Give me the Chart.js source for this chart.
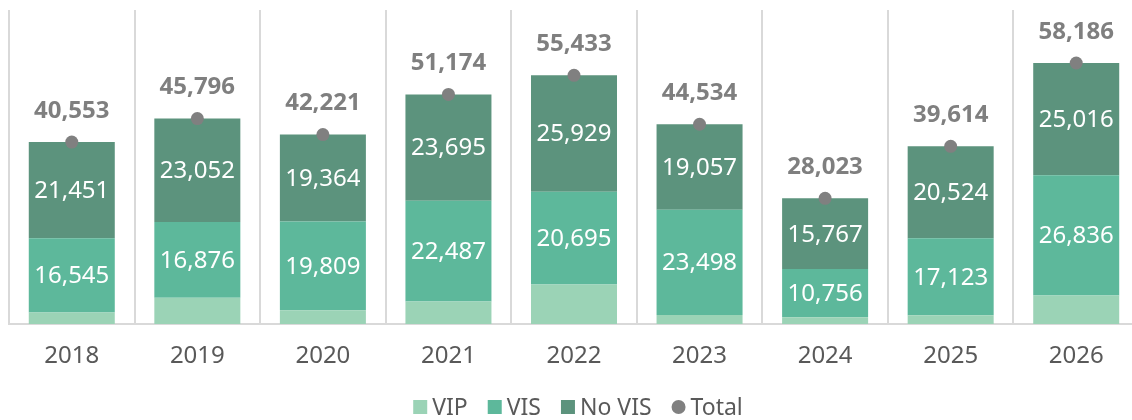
<!DOCTYPE html>
<html>
<head>
<meta charset="utf-8">
<script src="https://cdn.jsdelivr.net/npm/chart.js@4/dist/chart.umd.min.js"></script>
<style>
  html, body { margin: 0; padding: 0; background: #fff; overflow: hidden; }
</style>
</head>
<body>
<canvas id="grafico" width="1150" height="420"></canvas>
<script>
var anos = ['2018', '2019', '2020', '2021', '2022', '2023', '2024', '2025', '2026'];
var vip = [2557, 5868, 3048, 4992, 8809, 1979, 1500, 1967, 6334];
var vis = [16545, 16876, 19809, 22487, 20695, 23498, 10756, 17123, 26836];
var noVis = [21451, 23052, 19364, 23695, 25929, 19057, 15767, 20524, 25016];
var total = [40553, 45796, 42221, 51174, 55433, 44534, 28023, 39614, 58186];

var fonte = '"Noto Sans", sans-serif';

function fmt(v) {
    return v.toLocaleString('en-US');
}

// etiquetas dentro das barras e acima dos pontos
const etiquetas = {
    id: 'etiquetas',
    afterDatasetsDraw: function (chart) {
        var ctx = chart.ctx;
        ctx.save();
        ctx.textAlign = 'center';
        ctx.textBaseline = 'middle';
        [1, 2].forEach(function (di) {
            var meta = chart.getDatasetMeta(di);
            var dados = chart.data.datasets[di].data;
            ctx.fillStyle = '#ffffff';
            ctx.font = '24px ' + fonte;
            meta.data.forEach(function (el, i) {
                ctx.fillText(fmt(dados[i]), el.x, (el.y + el.base) / 2 + 1);
            });
        });
        var metaT = chart.getDatasetMeta(3);
        ctx.fillStyle = '#7f7f7f';
        ctx.font = 'bold 24px ' + fonte;
        metaT.data.forEach(function (el, i) {
            ctx.fillText(fmt(total[i]), el.x, el.y - 31);
        });
        ctx.restore();
    }
};

// legenda desenhada à mão embaixo
const legenda = {
    id: 'legenda',
    afterDraw: function (chart) {
        var ctx = chart.ctx;
        var ds = chart.data.datasets;
        ctx.save();
        ctx.font = '23px ' + fonte;
        ctx.textBaseline = 'middle';
        var larguras = ds.map(function (d) { return 14 + 5 + ctx.measureText(d.label).width; });
        var soma = larguras.reduce(function (a, b) { return a + b; }, 0) + 20 * (ds.length - 1);
        var x = 578 - soma / 2;
        var y = 407;
        ds.forEach(function (d, i) {
            ctx.fillStyle = d.type === 'line' ? '#808080' : d.backgroundColor;
            if (d.type === 'line') {
                ctx.beginPath();
                ctx.arc(x + 7, y, 7, 0, Math.PI * 2);
                ctx.fill();
            } else {
                ctx.fillRect(x, y - 7, 14, 14);
            }
            ctx.fillStyle = '#595959';
            ctx.fillText(d.label, x + 19, y + 1);
            x += larguras[i] + 20;
        });
        ctx.restore();
    }
};

var ctx = document.getElementById('grafico').getContext('2d');
var grafico = new Chart(ctx, {
    type: 'bar',
    data: {
        labels: anos,
        datasets: [{
            label: 'VIP',
            data: vip,
            backgroundColor: '#9bd3b6',
            stack: 'a',
            order: 1
        }, {
            label: 'VIS',
            data: vis,
            backgroundColor: '#5db89b',
            stack: 'a',
            order: 1
        }, {
            label: 'No VIS',
            data: noVis,
            backgroundColor: '#5c937d',
            stack: 'a',
            order: 1
        }, {
            type: 'line',
            label: 'Total',
            data: total,
            showLine: false,
            stack: 'total',
            pointRadius: 6.5,
            pointBackgroundColor: '#808080',
            pointBorderWidth: 0,
            borderColor: '#808080',
            backgroundColor: '#808080',
            order: 0
        }]
    },
    options: {
        responsive: false,
        animation: false,
        devicePixelRatio: 1,
        categoryPercentage: 1,
        barPercentage: 0.685,
        layout: { padding: { left: 9, right: 11, top: 10, bottom: 40 } },
        scales: {
            x: {
                stacked: true,
                grid: { display: true, offset: true, color: '#d9d9d9', lineWidth: 2, drawTicks: false },
                border: { display: true, color: '#d9d9d9', width: 2 },
                ticks: { color: '#595959', font: { family: fonte, size: 24 }, padding: 18 },
                afterFit: function (scale) { scale.height = 56; }
            },
            y: {
                display: false,
                stacked: true,
                min: 0,
                max: 70000
            }
        },
        plugins: {
            tooltip: { enabled: false },
            legend: { display: false }
        }
    },
    plugins: [etiquetas, legenda]
});
</script>
</body>
</html>
